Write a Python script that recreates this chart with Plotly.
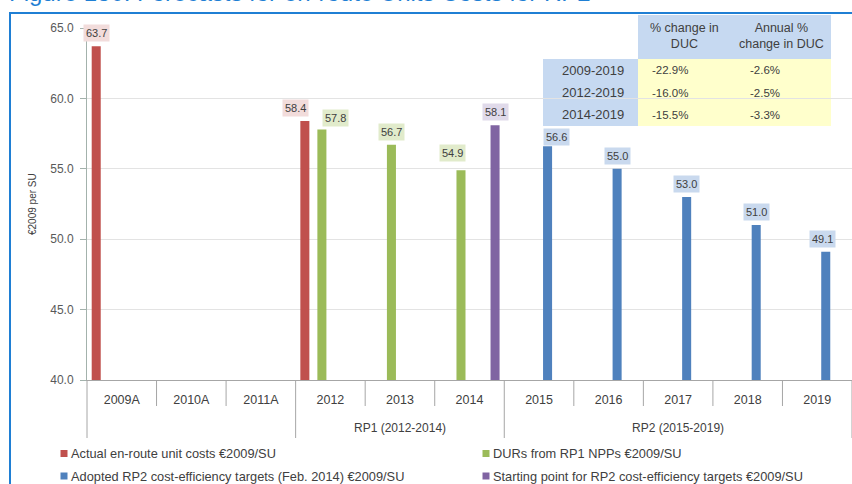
import plotly.graph_objects as go

# ---------------- data ----------------
categories = ["2009A", "2010A", "2011A", "2012", "2013", "2014",
              "2015", "2016", "2017", "2018", "2019"]
period_groups = [("", 3), ("RP1 (2012-2014)", 3), ("RP2 (2015-2019)", 5)]

actual_costs = [63.7, None, None, 58.4, None, None, None, None, None, None, None]
durs_rp1 = [None, None, None, 57.8, 56.7, 54.9, None, None, None, None, None]
adopted_rp2 = [None, None, None, None, None, None, 56.6, 55.0, 53.0, 51.0, 49.1]
starting_point = [None, None, None, None, None, 58.1, None, None, None, None, None]

series_names = [
    "Actual en-route unit costs €2009/SU",
    "DURs from RP1 NPPs €2009/SU",
    "Adopted RP2 cost-efficiency targets (Feb. 2014) €2009/SU",
    "Starting point for RP2 cost-efficiency targets €2009/SU",
]

table_header = ["% change in<br>DUC", "Annual %<br>change in DUC"]
table_periods = ["2009-2019", "2012-2019", "2014-2019"]
table_total_change = ["-22.9%", "-16.0%", "-15.5%"]
table_annual_change = ["-2.6%", "-2.5%", "-3.3%"]

y_ticks = [40, 45, 50, 55, 60, 65]
title_text = "Figure 130: Forecasts for en-route Units Costs for RP2"
y_title = "€2009 per SU"

# ---------------- style ----------------
colors = ["#C0504D", "#9BBB59", "#4F81BD", "#8064A2"]
label_bg = ["#F2DCDB", "#E1EBCB", "#C9D9EE", "#E0DAEA"]
FONT = "Liberation Sans, Arial, sans-serif"
TXT = "#404040"

W, H = 852, 484
L, R, T, B = 87, 0, 28, 104
PW, PH = W - L - R, H - T - B


def px_x(px):
    return (px - L) / PW


def px_y(py):
    return (H - B - py) / PH


BARGAP = 0.02
BARGROUPGAP = 0.47
n_series = 4
slot = (1 - BARGAP) / n_series

fig = go.Figure()
all_series = [actual_costs, durs_rp1, adopted_rp2, starting_point]
for k, (vals, name, col) in enumerate(zip(all_series, series_names, colors)):
    fig.add_trace(go.Bar(
        x=categories, y=vals, name=name,
        marker=dict(color=col, line=dict(width=0)),
        hoverinfo="x+y", showlegend=False,
    ))

# data labels (small nudges to avoid overlaps, as in the original)
nudges = {(0, "2012"): (-9, 0), (1, "2012"): (14, -2), (1, "2014"): (-8, 4),
          (2, "2015"): (9, -4), (2, "2019"): (-3, 0)}
annotations = []
for k, vals in enumerate(all_series):
    for i, v in enumerate(vals):
        if v is None:
            continue
        dx, dy = nudges.get((k, categories[i]), (0, 0))
        xpos = i - (1 - BARGAP) / 2 + slot * (k + 0.5)
        annotations.append(dict(
            x=xpos, y=v, xref="x", yref="y", text=f"{v:.1f}",
            showarrow=False, yanchor="bottom", xanchor="center",
            xshift=dx, yshift=4 + dy, bgcolor=label_bg[k], borderpad=2,
            font=dict(family=FONT, size=11, color=TXT),
        ))

# period (outer) labels and divider lines
shapes = []
n_cat = len(categories)
start = 0
group_edges = {0}
for label, size in period_groups:
    if label:
        center = start + size / 2
        annotations.append(dict(
            x=center / n_cat, y=px_y(428), xref="paper", yref="paper",
            text=label, showarrow=False, xanchor="center", yanchor="middle",
            font=dict(family=FONT, size=12, color=TXT),
        ))
    start += size
    group_edges.add(start)
for b in range(n_cat + 1):
    long_line = b in group_edges
    shapes.append(dict(
        type="line", xref="paper", yref="paper",
        x0=b / n_cat, x1=b / n_cat, y0=0, y1=px_y(438 if long_line else 406),
        line=dict(color="#A6A6A6", width=1),
    ))

# legend (two columns, drawn as small squares + labels)
legend_pos = [(64, 453.5), (486, 453.5), (64, 476), (486, 476)]
for k, (name, col) in enumerate(zip(series_names, colors)):
    lx, ly = legend_pos[k]
    shapes.append(dict(type="rect", xref="paper", yref="paper",
                       x0=px_x(lx - 3.5), x1=px_x(lx + 3.5),
                       y0=px_y(ly + 3.5), y1=px_y(ly - 3.5),
                       line=dict(width=0), fillcolor=col))
    annotations.append(dict(x=px_x(lx + 5), y=px_y(ly), xref="paper", yref="paper",
                            text=name, showarrow=False, xanchor="left", yanchor="middle",
                            font=dict(family=FONT, size=12.8, color=TXT)))

# blue frame around the chart
shapes.append(dict(type="rect", xref="paper", yref="paper",
                   x0=px_x(10), x1=px_x(W + 20), y0=px_y(H + 20), y1=px_y(13),
                   line=dict(color="#1F7FD4", width=2), fillcolor="rgba(0,0,0,0)",
                   layer="above"))

# summary table (top right)
hdr_x0, hdr_x1 = 638, 831
row_x0 = 543
hdr_y0, hdr_y1, rows_y1 = 15, 59, 126
shapes.append(dict(type="rect", xref="paper", yref="paper",
                   x0=px_x(hdr_x0), x1=px_x(hdr_x1), y0=px_y(hdr_y1), y1=px_y(hdr_y0),
                   line=dict(width=0), fillcolor="#C6D9F1", layer="below"))
shapes.append(dict(type="rect", xref="paper", yref="paper",
                   x0=px_x(row_x0), x1=px_x(hdr_x0), y0=px_y(rows_y1), y1=px_y(hdr_y1),
                   line=dict(width=0), fillcolor="#C6D9F1", layer="below"))
shapes.append(dict(type="rect", xref="paper", yref="paper",
                   x0=px_x(hdr_x0), x1=px_x(hdr_x1), y0=px_y(rows_y1), y1=px_y(hdr_y1),
                   line=dict(width=0), fillcolor="#FFFFCC", layer="below"))
for htxt, cx in zip(table_header, [684, 781]):
    annotations.append(dict(x=px_x(cx), y=px_y(36), xref="paper", yref="paper",
                            text=htxt, showarrow=False, xanchor="center", yanchor="middle",
                            font=dict(family=FONT, size=12.5, color=TXT)))
row_h = (rows_y1 - hdr_y1) / len(table_periods)
for r, (p, c1, c2) in enumerate(zip(table_periods, table_total_change, table_annual_change)):
    cy = hdr_y1 + row_h * (r + 0.5)
    annotations.append(dict(x=px_x(626), y=px_y(cy), xref="paper", yref="paper",
                            text=p, showarrow=False, xanchor="right", yanchor="middle",
                            font=dict(family=FONT, size=13, color=TXT)))
    annotations.append(dict(x=px_x(670), y=px_y(cy), xref="paper", yref="paper",
                            text=c1, showarrow=False, xanchor="center", yanchor="middle",
                            font=dict(family=FONT, size=11.5, color=TXT)))
    annotations.append(dict(x=px_x(765), y=px_y(cy), xref="paper", yref="paper",
                            text=c2, showarrow=False, xanchor="center", yanchor="middle",
                            font=dict(family=FONT, size=11.5, color=TXT)))

# y axis title and figure title (the title is cropped at the top in the original)
annotations.append(dict(x=px_x(32), y=0.5, xref="paper", yref="paper", text=y_title,
                        textangle=-90, showarrow=False, xanchor="center", yanchor="middle",
                        font=dict(family=FONT, size=10, color=TXT)))
annotations.append(dict(x=px_x(7), y=px_y(8), xref="paper", yref="paper", text=title_text,
                        showarrow=False, xanchor="left", yanchor="bottom",
                        font=dict(family=FONT, size=24, color="#1F7FD4")))

fig.update_layout(
    width=W, height=H,
    margin=dict(l=L, r=R, t=T, b=B, pad=0, autoexpand=False),
    paper_bgcolor="white", plot_bgcolor="white",
    barmode="group", bargap=BARGAP, bargroupgap=BARGROUPGAP,
    font=dict(family=FONT, size=12, color=TXT),
    showlegend=False,
    xaxis=dict(type="category", categoryorder="array", categoryarray=categories,
               range=[-0.5, n_cat - 0.5], showgrid=False, ticks="",
               showline=True, linecolor="#A6A6A6", linewidth=1,
               tickfont=dict(family=FONT, size=12.5, color=TXT),
               ticklabelstandoff=8, fixedrange=True, automargin=False),
    yaxis=dict(range=[40, 65], tickvals=y_ticks, tickformat=".1f",
               showgrid=True, gridcolor="#E3E3E3", gridwidth=1,
               showline=True, linecolor="#A3B2AC", linewidth=1,
               ticks="outside", ticklen=6, tickcolor="#A3B2AC",
               ticklabelstandoff=4,
               tickfont=dict(family=FONT, size=12, color="#595959"),
               zeroline=False, fixedrange=True, automargin=False),
    annotations=annotations,
    shapes=shapes,
)

fig.write_html(
    "out.html",
    config={"displayModeBar": False},
    post_script="document.body.style.margin='0px';document.body.style.overflow='hidden';",
)
